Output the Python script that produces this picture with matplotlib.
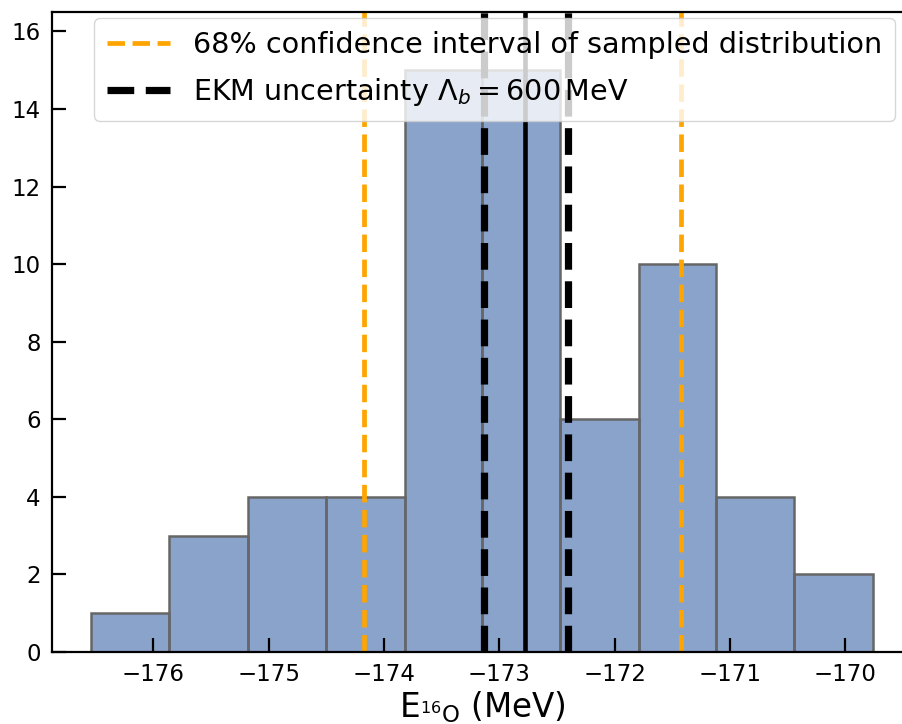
import numpy as np
import matplotlib.pyplot as plt

# binned energies of the sampled distribution
bin_edges = [-176.54, -175.86, -175.18, -174.50, -173.82, -173.15,
             -172.47, -171.79, -171.12, -170.44, -169.76]
counts = [1, 3, 4, 4, 15, 15, 6, 10, 4, 2]

# 68% interval of the samples and EKM band
ci_low, ci_high = -174.17, -171.42
ekm_low, ekm_central, ekm_high = -173.13, -172.78, -172.40

fig = plt.figure(figsize=(9.02, 7.24), dpi=100)
ax = fig.add_axes([0.0576, 0.0994, 0.9534, 0.884])

ax.hist(bin_edges[:-1], bins=bin_edges, weights=counts,
        facecolor=(0.298, 0.447, 0.690, 0.65), edgecolor='#666666', linewidth=1.8)

ax.axvline(ci_low, color='orange', ls='--', lw=3.4,
           label='68% confidence interval of sampled distribution')
ax.axvline(ci_high, color='orange', ls='--', lw=3.4)
ax.axvline(ekm_low, color='black', ls='--', lw=5.2,
           label=r'EKM uncertainty $\Lambda_b = 600\,$MeV')
ax.axvline(ekm_high, color='black', ls='--', lw=5.2)
ax.axvline(ekm_central, color='black', ls='-', lw=3.3)

ax.set_ylim(0, 16.5)
ax.set_yticks(np.arange(0, 17, 2))
ax.set_xticks(np.arange(-176, -169, 1))
ax.tick_params(direction='in', length=10, width=1.6, labelsize=16.5, pad=8)
for s in ax.spines.values():
    s.set_linewidth(1.6)

ax.set_xlabel(r'E$_{^{16}\mathrm{O}}$ (MeV)', fontsize=23.5, labelpad=2)
ax.legend(loc='upper right', bbox_to_anchor=(0.980, 0.9906), borderaxespad=0,
          fontsize=20.6, handlelength=2.2, labelspacing=0.6, borderpad=0.45)

fig.savefig('out.png', dpi=100)
